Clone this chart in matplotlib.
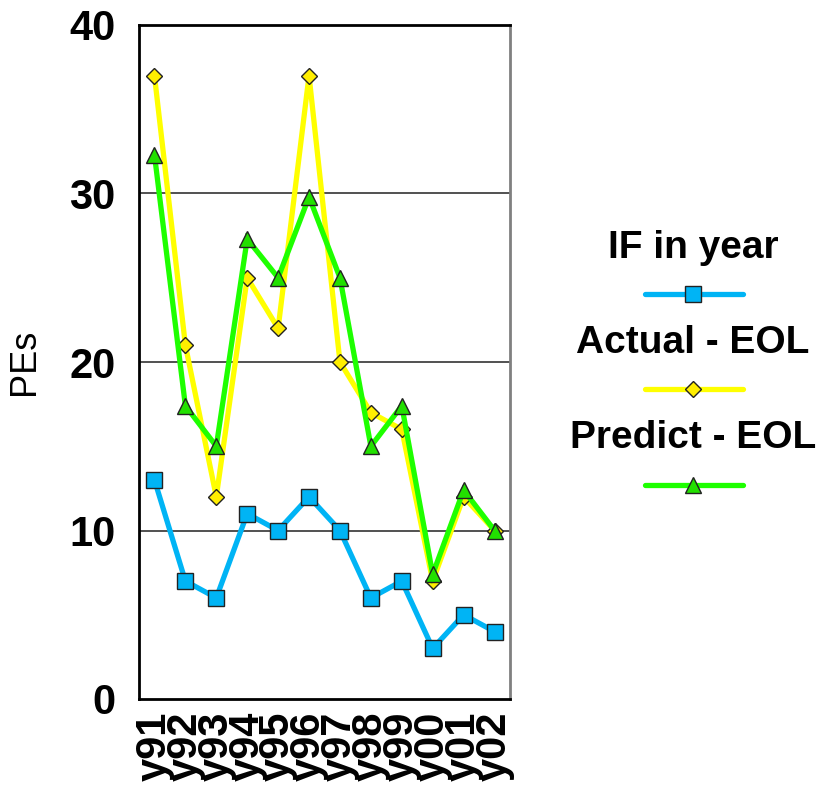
import matplotlib
matplotlib.use("Agg")
import matplotlib.pyplot as plt
from matplotlib.lines import Line2D

plt.rcParams['font.family'] = ['Liberation Sans', 'DejaVu Sans']

years = ["y91", "y92", "y93", "y94", "y95", "y96", "y97", "y98", "y99", "y00", "y01", "y02"]
if_in_year = [13, 7, 6, 11, 10, 12, 10, 6, 7, 3, 5, 4]
actual_eol = [37, 21, 12, 25, 22, 37, 20, 17, 16, 7, 12, 10]
predict_eol = [32.3, 17.4, 15, 27.3, 25, 29.8, 25, 15, 17.4, 7.4, 12.4, 10]
y_ticks = [0, 10, 20, 30, 40]

series = [
    ("IF in year", if_in_year, "#00B4F5", "s", "#00B4F5", 11.5),
    ("Actual - EOL", actual_eol, "#FFFF00", "D", "#FFEE00", 8.5),
    ("Predict - EOL", predict_eol, "#1EFF00", "^", "#22E000", 11.5),
]

W, H = 826, 791
fig = plt.figure(figsize=(W / 100, H / 100), dpi=100)
ax = fig.add_axes([139 / W, 1 - 699 / H, (510 - 139) / W, (699 - 25) / H])

x = list(range(len(years)))
for name, vals, col, mk, mfc, ms in series:
    ax.plot(x, vals, color=col, lw=3.8, marker=mk, markersize=ms,
            markerfacecolor=mfc, markeredgecolor="#222222", markeredgewidth=1.0,
            solid_joinstyle="miter", zorder=3)

ax.set_xlim(-0.5, len(years) - 0.5)
ax.set_ylim(0, 40)
ax.set_yticks(y_ticks)
ax.set_yticklabels([str(v) for v in y_ticks], fontsize=30, fontweight="bold")
ax.set_xticks(x)
ax.set_xticklabels(years, rotation=90, fontsize=30, fontweight="bold")
ax.tick_params(axis="both", length=0)
ax.tick_params(axis="y", pad=17)
ax.tick_params(axis="x", pad=9)
for lab in ax.get_xticklabels():
    lab.set_va("top")

for v in [10, 20, 30]:
    ax.axhline(v, color="#333333", lw=1.2, zorder=1)

for s in ["left", "top", "bottom"]:
    ax.spines[s].set_color("black")
    ax.spines[s].set_linewidth(2)
ax.spines["right"].set_color("#808080")
ax.spines["right"].set_linewidth(2)

ax.set_ylabel("PEs", fontsize=26)
ax.yaxis.set_label_coords(-0.262, 0.5)

# legend: text label above a short sample line
leg = fig.add_axes([0, 0, 1, 1], facecolor="none")
leg.set_xlim(0, W)
leg.set_ylim(H, 0)
leg.axis("off")
label_y = [248, 343, 438]
line_y = [294, 389, 485]
for (name, vals, col, mk, mfc, ms), ty, ly in zip(series, label_y, line_y):
    leg.text(693, ty, name, ha="center", va="center", fontsize=28,
             fontweight="bold")
    leg.add_line(Line2D([645, 743], [ly, ly], color=col, lw=3.8,
                        solid_capstyle="round"))
    leg.add_line(Line2D([693], [ly], marker=mk, markersize=ms,
                        markerfacecolor=mfc, markeredgecolor="#222222",
                        markeredgewidth=1.0, linestyle="none"))

fig.savefig("out.png", dpi=100)
